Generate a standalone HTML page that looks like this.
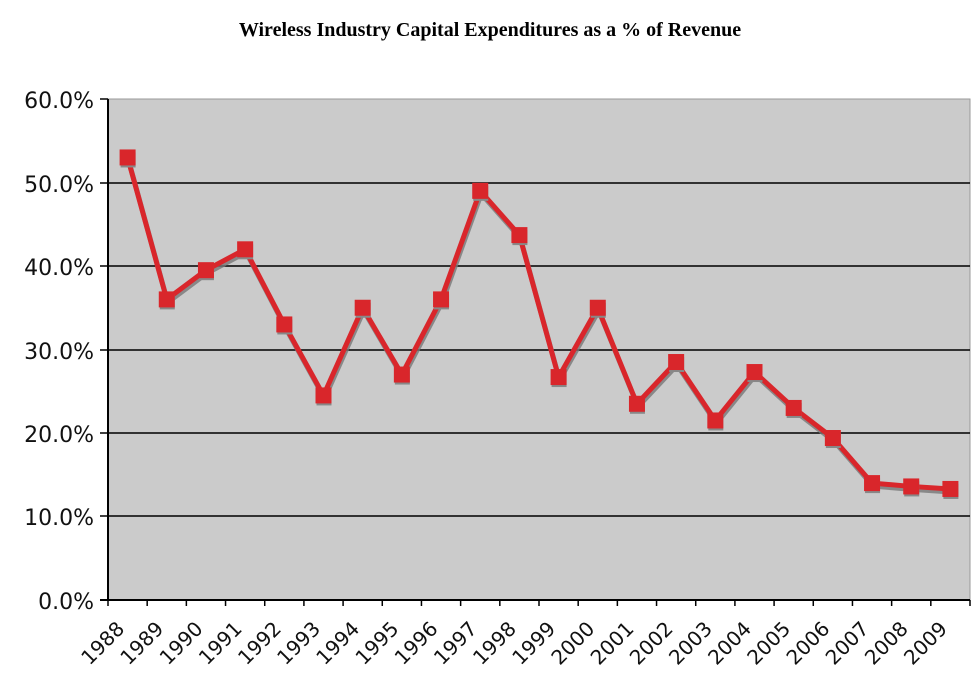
<!DOCTYPE html>
<html><head><meta charset="utf-8"><style>body{margin:0;background:#fff}svg{display:block}</style></head>
<body>
<svg width="980" height="691" viewBox="0 0 980 691" xmlns="http://www.w3.org/2000/svg">
<text x="490" y="36" text-anchor="middle" font-family="Liberation Serif, serif" font-weight="bold" font-size="20">Wireless Industry Capital Expenditures as a % of Revenue</text>
<rect x="108" y="99" width="862" height="501" fill="#cbcbcb" stroke="#999" stroke-width="1"/>
<g stroke="#000" stroke-width="1.5">
<line x1="108" y1="183" x2="970" y2="183"/><line x1="108" y1="266" x2="970" y2="266"/>
<line x1="108" y1="350" x2="970" y2="350"/><line x1="108" y1="433" x2="970" y2="433"/>
<line x1="108" y1="516" x2="970" y2="516"/>
<line x1="108" y1="99" x2="108" y2="600" stroke-width="2"/>
<line x1="100" y1="600" x2="970" y2="600" stroke-width="2"/>
<line x1="100" y1="99" x2="108" y2="99"/><line x1="100" y1="183" x2="108" y2="183"/><line x1="100" y1="266" x2="108" y2="266"/><line x1="100" y1="350" x2="108" y2="350"/><line x1="100" y1="433" x2="108" y2="433"/><line x1="100" y1="516" x2="108" y2="516"/>
</g>
<g font-family="DejaVu Sans, sans-serif" font-size="22" text-anchor="end" fill="#111">
<text x="94" y="108">60.0%</text><text x="94" y="192">50.0%</text><text x="94" y="275">40.0%</text><text x="94" y="359">30.0%</text><text x="94" y="442">20.0%</text><text x="94" y="525">10.0%</text><text x="94" y="609">0.0%</text>
</g>
<g id="ticks" stroke="#000" stroke-width="1.5"></g>
<g id="labels" font-family="DejaVu Sans, sans-serif" font-size="20" text-anchor="end" fill="#111"></g>
<polyline id="sh" fill="none" stroke="#777" stroke-width="5" stroke-linejoin="round" opacity="0.8"/>
<polyline id="ln" fill="none" stroke="#d9262b" stroke-width="5" stroke-linejoin="round"/>
<g id="mk"></g>
</svg>
<script>
var v=[53,36,39.5,42,33,24.5,35,27,36,49,43.7,26.7,35,23.5,28.5,21.5,27.3,23,19.4,14,13.6,13.3];
var ns="http://www.w3.org/2000/svg",w=862/22,p=[],s=[];
var t=document.getElementById('ticks'),l=document.getElementById('labels'),m=document.getElementById('mk');
for(var i=0;i<=22;i++){var x=108+w*i;var e=document.createElementNS(ns,'line');e.setAttribute('x1',x);e.setAttribute('x2',x);e.setAttribute('y1',600);e.setAttribute('y2',606);t.appendChild(e);}
v.forEach(function(d,i){var x=108+w*(i+0.5),y=600-d*501/60;p.push(x+','+y);s.push((x+1)+','+(y+3));
var tx=document.createElementNS(ns,'text');tx.setAttribute('transform','translate('+(x-2)+',630) rotate(-45)');tx.textContent=1988+i;l.appendChild(tx);
var r=document.createElementNS(ns,'rect');r.setAttribute('x',x-7);r.setAttribute('y',y-5);r.setAttribute('width',15);r.setAttribute('height',15);r.setAttribute('fill','#888');m.appendChild(r);
r=document.createElementNS(ns,'rect');r.setAttribute('x',x-8);r.setAttribute('y',y-8);r.setAttribute('width',16);r.setAttribute('height',16);r.setAttribute('fill','#d9262b');m.appendChild(r);});
document.getElementById('ln').setAttribute('points',p.join(' '));
document.getElementById('sh').setAttribute('points',s.join(' '));
</script>
</body></html>
